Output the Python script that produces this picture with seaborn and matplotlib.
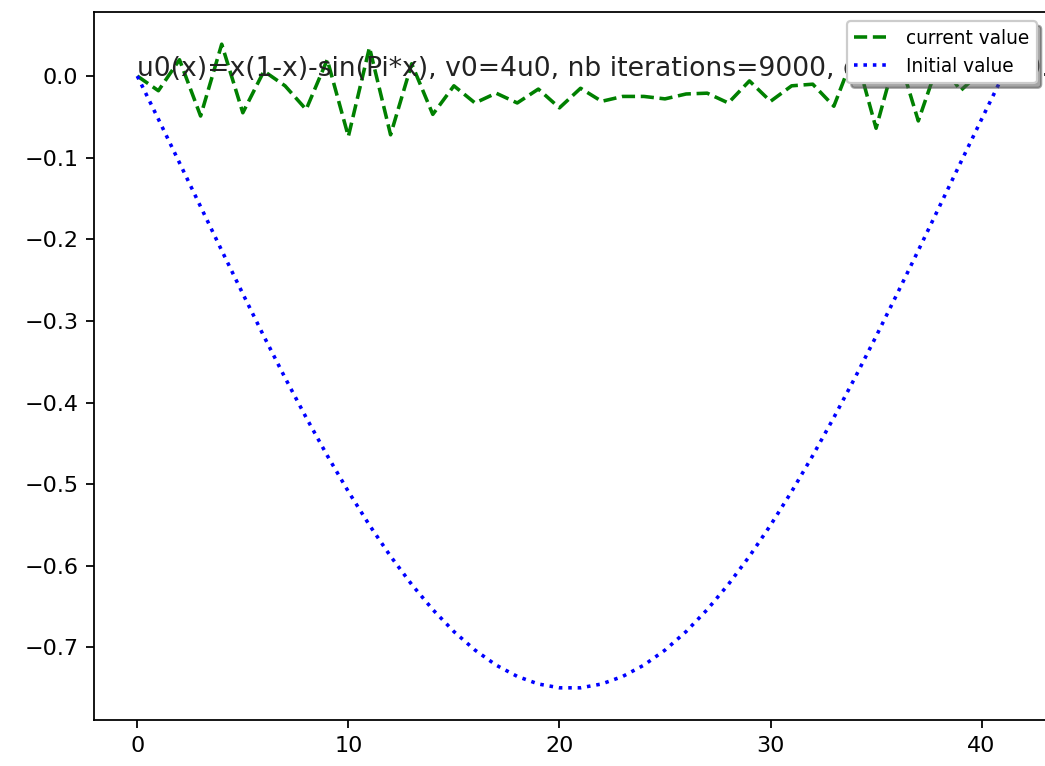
import matplotlib
matplotlib.use("Agg")
import matplotlib.pyplot as plt
import seaborn as sns
import pandas as pd

# index of the grid points
x_index = list(range(42))

# current value after iterations
current_value = [
    0.0, -0.018, 0.02, -0.049, 0.039, -0.045, 0.006, -0.012, -0.041, 0.02,
    -0.074, 0.035, -0.072, 0.015, -0.047, -0.012, -0.033, -0.021, -0.033, -0.016,
    -0.039, -0.015, -0.031, -0.025, -0.025, -0.028, -0.022, -0.021, -0.033, -0.006,
    -0.031, -0.012, -0.010, -0.037, 0.030, -0.064, 0.030, -0.055, 0.020, -0.018,
    0.006, 0.0,
]

# initial value u0
initial_value = [
    0.0, -0.0528, -0.1063, -0.1600, -0.2137, -0.2667, -0.3189, -0.3696, -0.4183, -0.4649,
    -0.5090, -0.5502, -0.5883, -0.6228, -0.6536, -0.6805, -0.7032, -0.7216, -0.7354, -0.7447,
    -0.7494, -0.7494, -0.7447, -0.7354, -0.7216, -0.7032, -0.6805, -0.6536, -0.6228, -0.5883,
    -0.5502, -0.5090, -0.4649, -0.4183, -0.3696, -0.3189, -0.2667, -0.2137, -0.1600, -0.1063,
    -0.0528, 0.0,
]

label_current = "current value"
label_initial = "Initial value"
annotation = "u0(x)=x(1-x)-sin(Pi*x), v0=4u0, nb iterations=9000, dt=0.001, T=9.0"

df = pd.DataFrame({"i": x_index, "current": current_value, "initial": initial_value})

fig = plt.figure(figsize=(1045 / 160, 766 / 160), dpi=160)
ax = fig.add_axes([94 / 1045, 46 / 766, 952 / 1045, 708 / 766])

sns.lineplot(data=df, x="i", y="current", ax=ax, color="g", linestyle="--",
             label=label_current, linewidth=1.6)
sns.lineplot(data=df, x="i", y="initial", ax=ax, color="b", linestyle=":",
             label=label_initial, linewidth=1.6)

ax.set_xlabel("")
ax.set_ylabel("")
ax.text(0, 0, annotation, fontsize=12, color="#222222")
ax.legend(loc="upper right", fontsize="small", shadow=True)

fig.savefig("out.png", dpi=160)
